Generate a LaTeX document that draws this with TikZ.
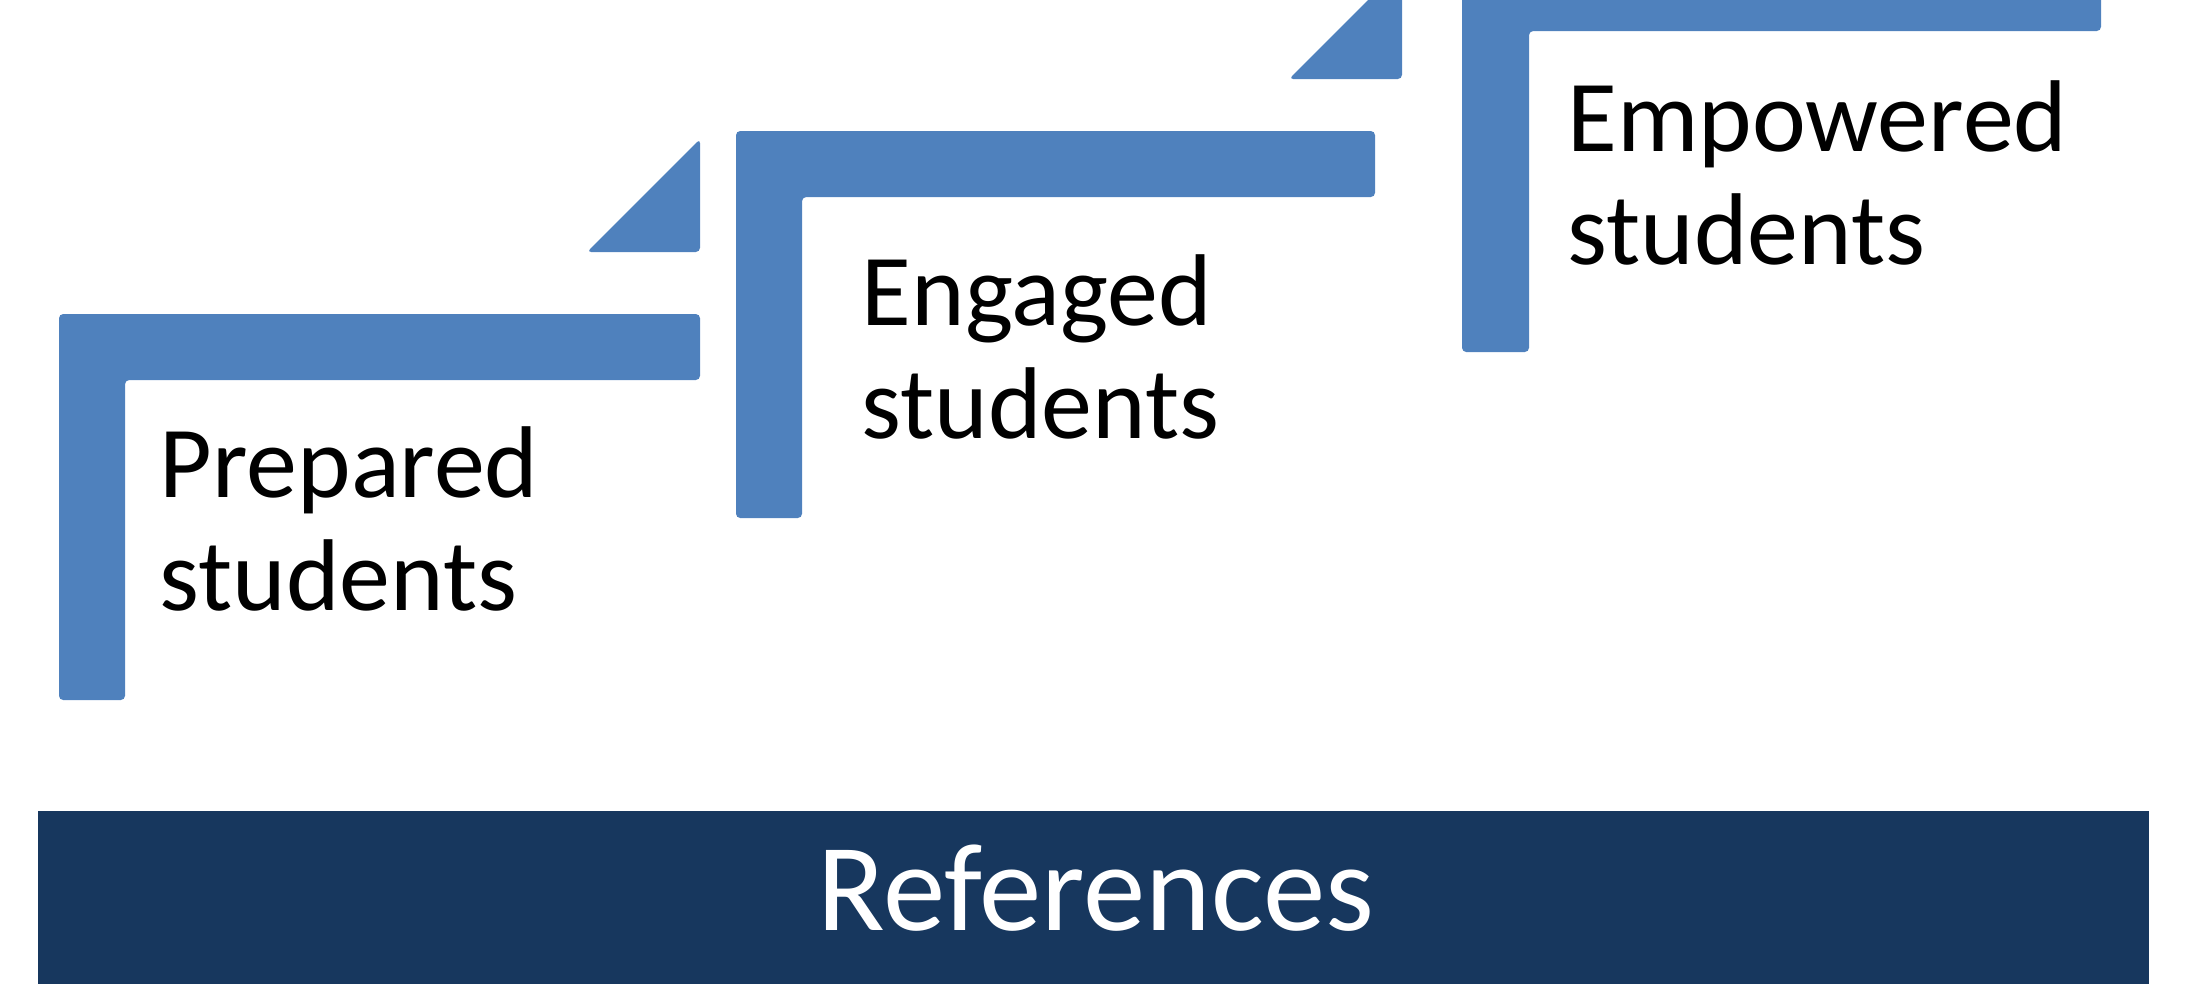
\documentclass[tikz,border=0pt]{standalone}
\usepackage{fontspec}
\setmainfont{Carlito}
\usetikzlibrary{positioning}
\definecolor{stairblue}{HTML}{4F81BD}
\definecolor{banddark}{HTML}{17375E}

\begin{document}
\begin{tikzpicture}[x=0.01cm, y=-0.01cm, stair/.style={fill=stairblue,rounded corners=1.2pt},lbl/.style={anchor=base west,align=left,inner sep=0pt,font=\fontsize{29}{32}\selectfont}]
              \useasboundingbox (0,0) rectangle (2207,999);
              \clip (0,0) rectangle (2207,999);

              % stairs
              \fill[stair] (59,700) -- (59,314) -- (700,314) -- (700,380) -- (125,380) -- (125,700) -- cycle;
              \fill[stair] (736,518) -- (736,131) -- (1375,131) -- (1375,197) -- (802,197) -- (802,518) -- cycle;
              \fill[stair] (1462,352) -- (1462,-35) -- (2101,-35) -- (2101,31) -- (1529,31) -- (1529,352) -- cycle;

              % flags
              \fill[stair] (587,252) -- (700,139) -- (700,252) -- cycle;
              \fill[stair] (1289,79) -- (1402,-34) -- (1402,79) -- cycle;

              % base anchor sits on the last line
              \node[lbl] (prep) at (159,610) {Prepared\\students};
              \node[lbl] (enga) at (861,438) {Engaged\\students};
              \node[lbl] (empo) at (1567,264) {Empowered\\students};

              \fill[banddark] (38,811) rectangle (2149,984);
              \node[anchor=base,inner sep=0pt,text=white,font=\fontsize{35.5}{40}\selectfont] (refs) at (1096,930) {References};
            \end{tikzpicture}
\end{document}
